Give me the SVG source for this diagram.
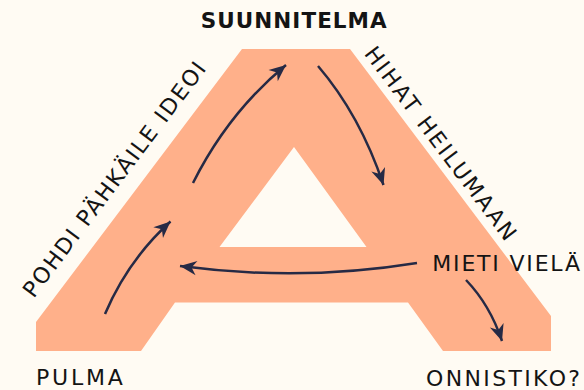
<svg xmlns="http://www.w3.org/2000/svg" width="584" height="390" viewBox="0 0 584 390">
<style>
.lbl{font-family:"DejaVu Sans","Liberation Sans",sans-serif;font-size:22px;fill:#141414;}
.b{font-weight:bold;font-size:21.5px;}
.arr{fill:none;stroke:#262A45;stroke-width:2.5;stroke-linecap:butt;marker-end:url(#ah);}
</style>
<defs>
<marker id="ah" markerUnits="userSpaceOnUse" markerWidth="20" markerHeight="20" viewBox="-16 -8 18 16" refX="0" refY="0" orient="auto">
<path d="M0,0 L-15,-6.5 L-10.5,0 L-15,6.5 Z" fill="#262A45"/>
</marker>
</defs>
<rect width="584" height="390" fill="#FFFBF3"/>
<g id="shapeA">
<path d="M242,49 L350,49 L551,316 L551,351 L443,351 L408,302.5 L175,302.5 L141,351 L36,351 L36,322 Z M294,147 L219.5,247 L366.5,247 Z" fill="#FFB08A" fill-rule="evenodd"/>
</g>
<g id="connectors">
<path class="arr" d="M105,314 Q128,260 170.5,221.5"/>
<path class="arr" d="M193,183 Q228,113 286,65"/>
<path class="arr" d="M318,66 Q360,115 383.5,185"/>
<path class="arr" d="M417,263 Q300,282 180,266"/>
<path class="arr" d="M466,280 Q490,305 502,341"/>
</g>
<g id="suunnitelma"><text class="lbl b" x="200.7" y="28.3" textLength="186" lengthAdjust="spacing">SUUNNITELMA</text></g>
<g id="pulma"><text class="lbl" x="36" y="385" textLength="86.7" lengthAdjust="spacing">PULMA</text></g>
<g id="onnistiko"><text class="lbl" x="426" y="385.5" textLength="154" lengthAdjust="spacing">ONNISTIKO?</text></g>
<g id="mieti"><text class="lbl" x="432.3" y="270.7" textLength="147.7" lengthAdjust="spacing">MIETI VIELÄ</text></g>
<g id="pohdi"><text class="lbl" transform="translate(120.3,184) rotate(-53)" x="0" y="0" text-anchor="middle" textLength="288" lengthAdjust="spacing">POHDI PÄHKÄILE IDEOI</text></g>
<g id="hihat"><text class="lbl" transform="translate(434.5,148) rotate(53)" x="0" y="0" text-anchor="middle" textLength="236" lengthAdjust="spacing">HIHAT HEILUMAAN</text></g>
</svg>
